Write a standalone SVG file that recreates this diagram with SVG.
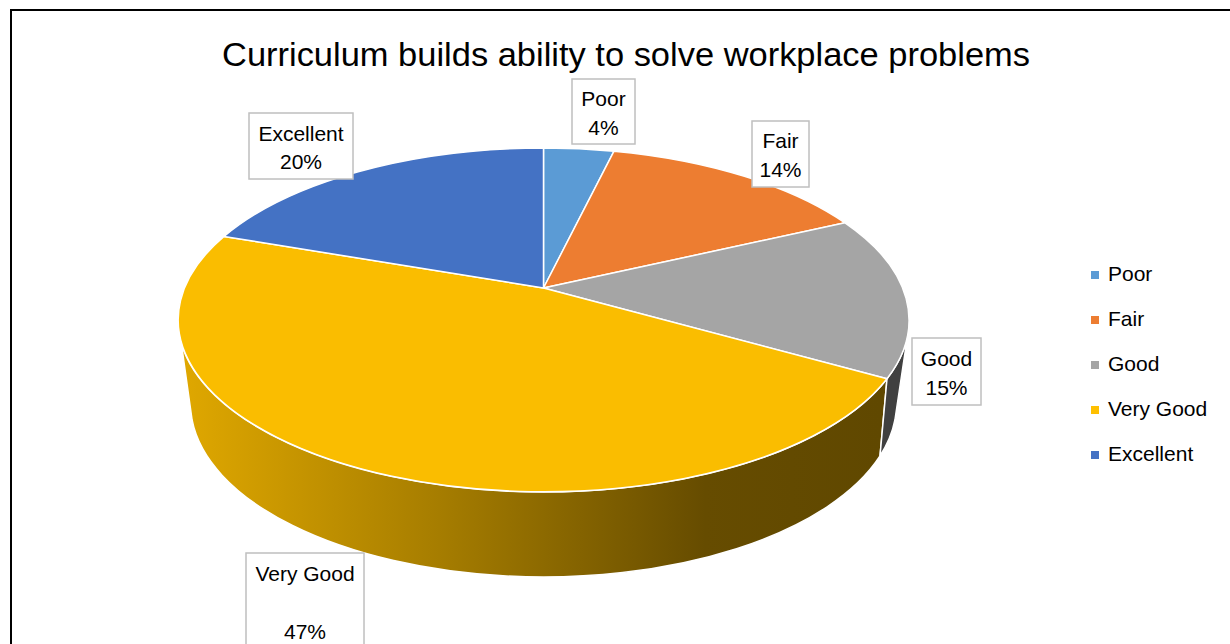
<svg xmlns="http://www.w3.org/2000/svg" width="1230" height="644" viewBox="0 0 1230 644">
  <defs>
    <linearGradient id="vgSide" gradientUnits="userSpaceOnUse" x1="180" y1="0" x2="880" y2="0">
      <stop offset="0" stop-color="#E0A800"/>
      <stop offset="0.37" stop-color="#A67D00"/>
      <stop offset="0.75" stop-color="#664C00"/>
      <stop offset="1" stop-color="#604800"/>
    </linearGradient>
  </defs>
  <style>
    text { font-family: "Liberation Sans", Arial, sans-serif; fill: #000; }
    .title { font-size: 33px; }
    .lbl { font-size: 21px; text-anchor: middle; }
    .leg { font-size: 21px; }
    .box { fill: #fff; stroke: #BFBFBF; stroke-width: 1.5; }
    .slice { stroke: #fff; stroke-width: 1.5; stroke-linejoin: round; }
  </style>
  <rect x="0" y="0" width="1230" height="644" fill="#fff"/>
  <rect x="11" y="10" width="1300" height="700" fill="none" stroke="#000" stroke-width="2"/>

  <text class="title" x="626" y="66" text-anchor="middle" textLength="808" lengthAdjust="spacingAndGlyphs">Curriculum builds ability to solve workplace problems</text>

  <g id="pie">
    <g id="side-very-good">
      <path class="slice" fill="url(#vgSide)" d="M 181.3,343 A 365.5 172 0 0 0 887,378.8 L 880,456 A 353 173.4 0 0 1 192.1,420 Z"/>
    </g>
    <g id="side-good">
      <path class="slice" fill="#404040" d="M 908.4,330 A 365.5 172 0 0 1 887,378.8 L 880,456 A 353 173.4 0 0 0 894.9,420 Z"/>
    </g>
    <g id="slice-poor">
      <path class="slice" fill="#5B9BD5" d="M 543.5,288 L 543.5,148 A 365.5 172 0 0 1 614,151.2 Z"/>
    </g>
    <g id="slice-fair">
      <path class="slice" fill="#ED7D31" d="M 543.5,288 L 614,151.2 A 365.5 172 0 0 1 845,222.8 Z"/>
    </g>
    <g id="slice-good">
      <path class="slice" fill="#A5A5A5" d="M 543.5,288 L 845,222.8 A 365.5 172 0 0 1 887,378.8 Z"/>
    </g>
    <g id="slice-very-good">
      <path class="slice" fill="#FABD00" d="M 543.5,288 L 887,378.8 A 365.5 172 0 1 1 224,236.4 Z"/>
    </g>
    <g id="slice-excellent">
      <path class="slice" fill="#4472C4" d="M 543.5,288 L 224,236.4 A 365.5 172 0 0 1 543.5,148 Z"/>
    </g>
  </g>

  <g id="label-poor">
    <rect class="box" x="572" y="79" width="63" height="65"/>
    <text class="lbl" x="603.5" y="106">Poor</text>
    <text class="lbl" x="603.5" y="135">4%</text>
  </g>
  <g id="label-fair">
    <rect class="box" x="752" y="121" width="57" height="66"/>
    <text class="lbl" x="780.5" y="148">Fair</text>
    <text class="lbl" x="780.5" y="177">14%</text>
  </g>
  <g id="label-good">
    <rect class="box" x="912" y="338" width="69" height="67"/>
    <text class="lbl" x="946.5" y="366">Good</text>
    <text class="lbl" x="946.5" y="395">15%</text>
  </g>
  <g id="label-excellent">
    <rect class="box" x="249" y="113" width="104" height="66"/>
    <text class="lbl" x="301" y="140.5">Excellent</text>
    <text class="lbl" x="301" y="169">20%</text>
  </g>
  <g id="label-very-good">
    <rect class="box" x="246" y="553" width="118" height="120"/>
    <text class="lbl" x="305" y="581">Very Good</text>
    <text class="lbl" x="305" y="639">47%</text>
  </g>

  <g id="legend">
    <g id="legend-poor">
      <rect x="1091" y="271" width="8" height="8" fill="#5B9BD5"/>
      <text class="leg" x="1108" y="281">Poor</text>
    </g>
    <g id="legend-fair">
      <rect x="1091" y="316" width="8" height="8" fill="#ED7D31"/>
      <text class="leg" x="1108" y="326">Fair</text>
    </g>
    <g id="legend-good">
      <rect x="1091" y="361" width="8" height="8" fill="#A5A5A5"/>
      <text class="leg" x="1108" y="371">Good</text>
    </g>
    <g id="legend-very-good">
      <rect x="1091" y="406" width="8" height="8" fill="#FFC000"/>
      <text class="leg" x="1108" y="416">Very Good</text>
    </g>
    <g id="legend-excellent">
      <rect x="1091" y="451" width="8" height="8" fill="#4472C4"/>
      <text class="leg" x="1108" y="461">Excellent</text>
    </g>
  </g>
</svg>
